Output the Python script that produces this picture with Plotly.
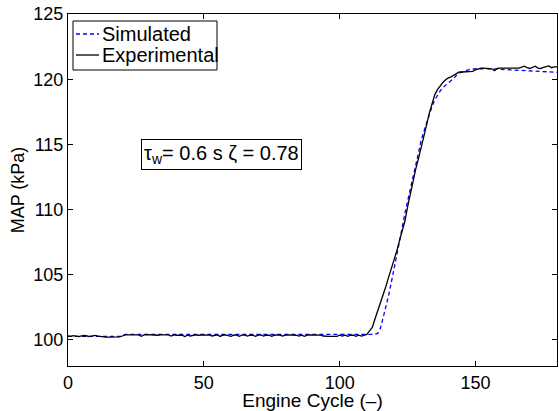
import plotly.graph_objects as go

# ---- data ----
sim_cycle = [0, 20, 21, 113, 114, 115, 116, 117, 118, 119, 120, 121, 122, 123, 124,
             125, 126, 127, 128, 129, 130, 131, 132, 133, 134, 135, 136, 137, 138,
             139, 140, 141, 142, 143, 144, 145, 146, 147, 148, 149, 150, 155, 160,
             165, 170, 175, 180]
sim_map = [100.28, 100.28, 100.43, 100.43, 100.5, 100.9, 101.7, 102.5, 103.4, 104.4,
           105.4, 106.4, 107.5, 108.6, 109.7, 110.7, 111.6, 112.5, 113.4, 114.4,
           115.3, 116.0, 116.7, 117.3, 117.9, 118.4, 118.8, 119.1, 119.35, 119.55,
           119.75, 119.9, 120.05, 120.3, 120.45, 120.55, 120.63, 120.7, 120.75,
           120.78, 120.8, 120.8, 120.74, 120.68, 120.62, 120.57, 120.53]

exp_map = [
    100.30, 100.27, 100.33, 100.28, 100.25, 100.31, 100.34, 100.30, 100.26, 100.31,
    100.35, 100.29, 100.25, 100.22, 100.22, 100.22, 100.22, 100.22, 100.22, 100.23,
    100.30, 100.38, 100.38, 100.37, 100.38, 100.39, 100.38, 100.28, 100.38, 100.40,
    100.38, 100.39, 100.38, 100.36, 100.38, 100.37, 100.38, 100.39, 100.30, 100.38,
    100.36, 100.38, 100.37, 100.26, 100.36, 100.30, 100.37, 100.38, 100.36, 100.39,
    100.38, 100.37, 100.38, 100.30, 100.37, 100.38, 100.27, 100.36, 100.38, 100.35,
    100.27, 100.36, 100.38, 100.28, 100.37, 100.38, 100.29, 100.37, 100.36, 100.28,
    100.37, 100.38, 100.30, 100.36, 100.37, 100.27, 100.36, 100.38, 100.37, 100.29,
    100.37, 100.38, 100.37, 100.38, 100.36, 100.30, 100.37, 100.28, 100.37, 100.38,
    100.37, 100.36, 100.38, 100.37, 100.30, 100.27, 100.27, 100.27, 100.27, 100.28,
    100.36, 100.30, 100.37, 100.28, 100.36, 100.37, 100.27, 100.36, 100.30, 100.37,
    100.42, 100.70, 100.95, 101.60, 102.20, 102.80, 103.50, 104.10, 104.80, 105.45,
    106.10, 106.80, 107.60, 108.40, 109.10, 110.20, 111.20, 112.20, 113.10, 113.90,
    114.70, 115.60, 116.50, 117.40, 118.20, 118.80, 119.20, 119.50, 119.75, 119.95,
    120.10, 120.18, 120.30, 120.45, 120.55, 120.55, 120.55, 120.55, 120.55, 120.60,
    120.72, 120.80, 120.85, 120.85, 120.85, 120.85, 120.80, 120.65, 120.82, 120.85,
    120.85, 120.85, 120.84, 120.85, 120.85, 120.85, 120.85, 120.92, 121.00, 120.88,
    120.82, 120.90, 121.00, 120.85, 120.82, 120.90, 120.95, 121.02, 120.88, 120.95,
    120.95,
]
exp_cycle = list(range(len(exp_map)))

series_names = ["Simulated", "Experimental"]
series_colors = ["#0000ff", "#000000"]
series_dash = ["4px,3px", "solid"]
x_ticks = [0, 50, 100, 150]
y_ticks = [100, 105, 110, 115, 120, 125]
annotation_text = "τ<sub>w</sub>= 0.6 s ζ = 0.78"

FONT = "Liberation Sans, Arial, Helvetica, sans-serif"

fig = go.Figure()
fig.add_trace(go.Scatter(
    x=sim_cycle, y=sim_map, mode="lines", name=series_names[0], showlegend=False,
    line=dict(color=series_colors[0], width=1.3, dash=series_dash[0]),
))
fig.add_trace(go.Scatter(
    x=exp_cycle, y=exp_map, mode="lines", name=series_names[1], showlegend=False,
    line=dict(color=series_colors[1], width=1.3, dash=series_dash[1]),
))

axis_common = dict(
    showgrid=False, zeroline=False, showline=True, linecolor="black", linewidth=1,
    mirror="ticks", ticks="inside", ticklen=5, tickcolor="black", tickwidth=1,
    tickfont=dict(family=FONT, size=18, color="black"),
)
fig.update_xaxes(range=[0, 180], tickvals=x_ticks,
                 title=dict(text="Engine Cycle (–)", font=dict(family=FONT, size=19, color="black"),
                            standoff=1),
                 **axis_common)
fig.update_yaxes(range=[98, 125], tickvals=y_ticks,
                 title=dict(text="MAP (kPa)", font=dict(family=FONT, size=18, color="black"),
                            standoff=4),
                 **axis_common)

fig.add_annotation(
    x=56.5, y=114.2, xref="x", yref="y", text=annotation_text, showarrow=False,
    font=dict(family=FONT, size=20, color="black"),
    bordercolor="black", borderwidth=1, borderpad=2, bgcolor="white",
)

# ---- legend box drawn in paper coordinates (MATLAB-style compact legend) ----
fig.add_shape(type="rect", xref="paper", yref="paper",
              x0=0.0102, x1=0.3047, y0=0.8409, y1=0.9801,
              line=dict(color="black", width=1), fillcolor="white", layer="above")
leg_rows = [0.9432, 0.8835]
for name, col, dash, yy in zip(series_names, series_colors, series_dash, leg_rows):
    fig.add_shape(type="line", xref="paper", yref="paper",
                  x0=0.0164, x1=0.0634, y0=yy, y1=yy,
                  line=dict(color=col, width=1.3, dash=dash), layer="above")
    fig.add_annotation(x=0.0654, y=yy, xref="paper", yref="paper", text=name,
                       showarrow=False, xanchor="left", yanchor="middle",
                       font=dict(family=FONT, size=20, color="black"))

fig.update_layout(
    width=559, height=411,
    margin=dict(l=68, r=2, t=14, b=45, autoexpand=False),
    paper_bgcolor="white", plot_bgcolor="white",
    showlegend=False,
    font=dict(family=FONT, color="black"),
)

fig.write_html("out.html", config={"displayModeBar": False},
               post_script="document.body.style.margin='0';")
